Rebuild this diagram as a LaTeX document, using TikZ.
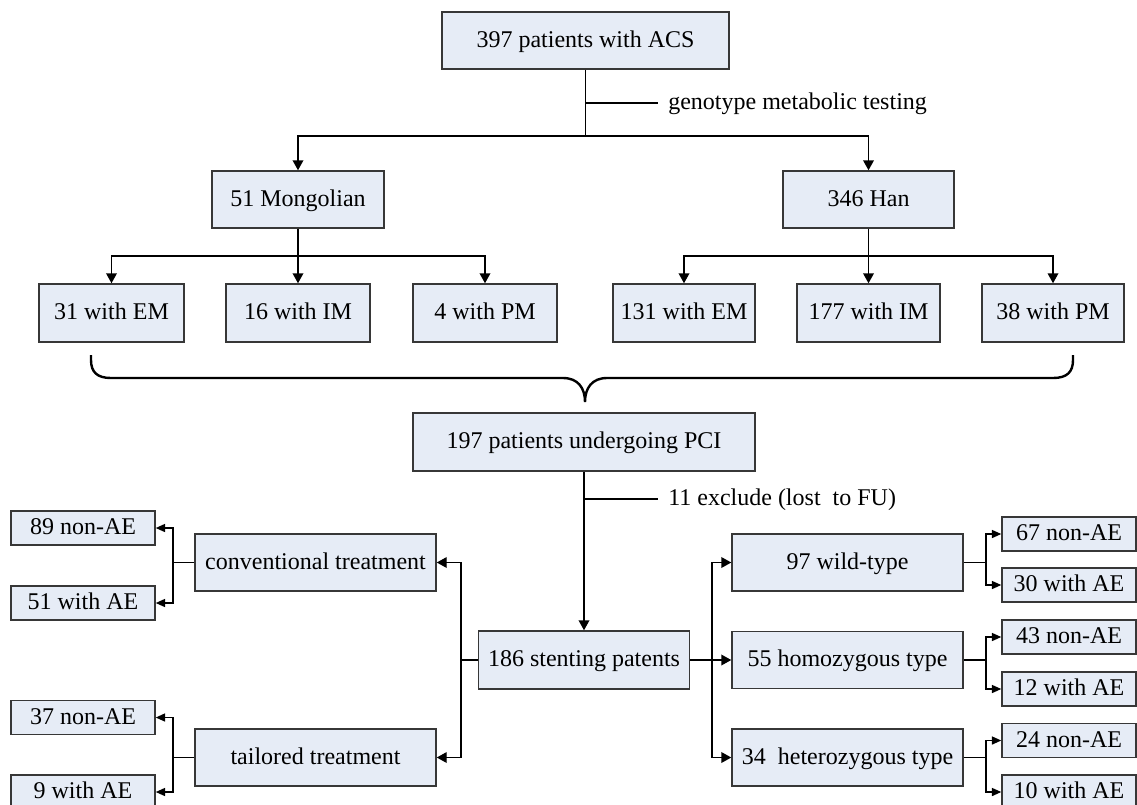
\documentclass[tikz,border=0pt]{standalone}
\usepackage{fontspec}
\setmainfont{Liberation Serif}
\usetikzlibrary{arrows.meta}
\definecolor{boxfill}{RGB}{230,236,246}
\definecolor{boxline}{RGB}{55,55,55}
\begin{document}
\begin{tikzpicture}[x=0.75pt,y=-0.75pt,
  box/.style={draw=boxline, fill=boxfill, line width=1.1pt, inner sep=0pt,
    font=\fontsize{18}{20}\selectfont, text height=13pt, text depth=3pt,
    minimum height=57*0.75pt},
  leaf/.style={box, minimum height=34*0.75pt},
  conn/.style={line width=1.1pt, draw=black},
  arr/.style={conn, -{Triangle[length=7.5pt,width=8pt]}},
  sarr/.style={conn, -{Triangle[length=7pt,width=6pt]}},
  lbl/.style={font=\fontsize{18}{20}\selectfont, text height=13pt, text depth=3pt,
    anchor=west, inner sep=0pt}
]
\useasboundingbox (0,0) rectangle (1137,804);
\clip (0,0) rectangle (1137,804);

% top part
\node[box, minimum width=287*0.75pt] (top) at (585.5,40.5) {397 patients with ACS};
\node[box, minimum width=172*0.75pt] (mong) at (298,199.5) {51 Mongolian};
\node[box, minimum width=171*0.75pt] (han) at (868.5,199.5) {346 Han};

\node[box, minimum width=145*0.75pt, minimum height=58*0.75pt] (em1) at (111.5,313) {31 with EM};
\node[box, minimum width=144*0.75pt, minimum height=58*0.75pt] (im1) at (298,313) {16 with IM};
\node[box, minimum width=144*0.75pt, minimum height=58*0.75pt] (pm1) at (485,313) {4 with PM};
\node[box, minimum width=142*0.75pt, minimum height=58*0.75pt] (em2) at (684,313) {131 with EM};
\node[box, minimum width=143*0.75pt, minimum height=58*0.75pt] (im2) at (868.5,313) {177 with IM};
\node[box, minimum width=142*0.75pt, minimum height=58*0.75pt] (pm2) at (1053,313) {38 with PM};

\coordinate (b1) at (585.5,136);
\coordinate (g1) at (585.5,103);
\node[lbl] (gtxt) at (668,103) {genotype metabolic testing};
\draw[conn] (top.south) -- (b1);
\draw[conn] (g1) -- ([xshift=-7.5pt]gtxt.west);
\draw[arr] (b1) -| (mong.north);
\draw[arr] (b1) -| (han.north);

\coordinate (b2) at (298,256);
\draw[arr] (mong.south) -- (im1.north);
\draw[arr] (b2) -| (em1.north);
\draw[arr] (b2) -| (pm1.north);

\coordinate (b3) at (868.5,256);
\draw[arr] (han.south) -- (im2.north);
\draw[arr] (b3) -| (em2.north);
\draw[arr] (b3) -| (pm2.north);

% brace
\draw[line width=1.8pt] (91,355) -- (91,360) .. controls (91,372) and (97,378) .. (111,378)
  -- (563,378) .. controls (578,378) and (585,388) .. (585,402)
  .. controls (585,388) and (592,378) .. (607,378)
  -- (1053,378) .. controls (1067,378) and (1073,372) .. (1073,360) -- (1073,355);

% middle
\node[box, minimum width=342*0.75pt, minimum height=58*0.75pt] (pci) at (584,442) {197 patients undergoing PCI};
\node[box, minimum width=211*0.75pt, minimum height=58*0.75pt] (stent) at (584,660) {186 stenting patents};
\draw[arr] (pci.south) -- (stent.north);
\coordinate (e1) at (584,499);
\node[lbl] (etxt) at (668,499) {11 exclude (lost\ \ to FU)};
\draw[conn] (e1) -- ([xshift=-7.5pt]etxt.west);

% left branch
\node[box, minimum width=241*0.75pt] (conv) at (315.5,562.5) {conventional treatment};
\node[box, minimum width=241*0.75pt] (tail) at (315.5,757.5) {tailored treatment};
\coordinate (lb) at (461,660);
\draw[conn] (stent.west) -- (lb);
\draw[arr] (lb) |- (conv.east);
\draw[arr] (lb) |- (tail.east);

\node[leaf, minimum width=144*0.75pt] (n89) at (83,528) {89 non-AE};
\node[leaf, minimum width=144*0.75pt] (w51) at (83,603) {51 with AE};
\node[leaf, minimum width=144*0.75pt] (n37) at (83,717.5) {37 non-AE};
\node[leaf, minimum width=144*0.75pt] (w9) at (83,792) {9 with AE};

\coordinate (cb) at (173,562.5);
\draw[conn] (conv.west) -- (cb);
\draw[sarr] (cb) |- (n89.east);
\draw[sarr] (cb) |- (w51.east);
\coordinate (tb) at (173,757.5);
\draw[conn] (tail.west) -- (tb);
\draw[sarr] (tb) |- (n37.east);
\draw[sarr] (tb) |- (w9.east);

% right branch
\node[box, minimum width=231*0.75pt] (wild) at (847.5,562.5) {97 wild-type};
\node[box, minimum width=231*0.75pt] (hom) at (847.5,660) {55 homozygous type};
\node[box, minimum width=231*0.75pt] (het) at (847.5,757.5) {34\ \ heterozygous type};
\coordinate (rb) at (712,660);
\draw[arr] (stent.east) -- (hom.west);
\draw[arr] (rb) |- (wild.west);
\draw[arr] (rb) |- (het.west);

\node[leaf, minimum width=134*0.75pt] (n67) at (1069,534) {67 non-AE};
\node[leaf, minimum width=134*0.75pt] (w30) at (1069,585) {30 with AE};
\node[leaf, minimum width=134*0.75pt] (n43) at (1069,637) {43 non-AE};
\node[leaf, minimum width=134*0.75pt] (w12) at (1069,689) {12 with AE};
\node[leaf, minimum width=134*0.75pt] (n24) at (1069,740.5) {24 non-AE};
\node[leaf, minimum width=134*0.75pt] (w10) at (1069,792) {10 with AE};

\coordinate (wb) at (986,562.5);
\draw[conn] (wild.east) -- (wb);
\draw[sarr] (wb) |- (n67.west);
\draw[sarr] (wb) |- (w30.west);
\coordinate (hb) at (986,660);
\draw[conn] (hom.east) -- (hb);
\draw[sarr] (hb) |- (n43.west);
\draw[sarr] (hb) |- (w12.west);
\coordinate (eb) at (986,757.5);
\draw[conn] (het.east) -- (eb);
\draw[sarr] (eb) |- (n24.west);
\draw[sarr] (eb) |- (w10.west);
\end{tikzpicture}
\end{document}
